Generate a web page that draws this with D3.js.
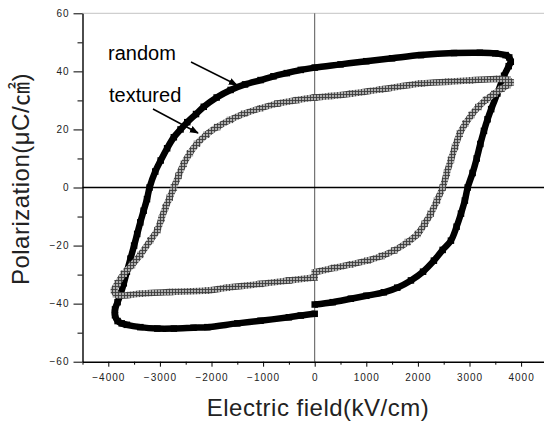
<!DOCTYPE html>
<html>
<head>
<meta charset="utf-8">
<script src="https://cdn.jsdelivr.net/npm/d3@7"></script>
<style>
  body { margin: 0; background: #fff; }
  svg { display: block; }
</style>
</head>
<body>
<div id="chart"></div>
<script>
// hysteresis loops, E in kV/cm, P in uC/cm2, in measuring order
const randomE = [0, 350, 700, 1000, 1340, 1600, 1865, 2100, 2310, 2480, 2640, 2750, 2835, 2910, 2965, 3060, 3140, 3210, 3280, 3350, 3420, 3540, 3670, 3760,
  3800, 3770, 3700, 3500, 3200, 2700, 2060, 1500, 1000, 500, 0, -270, -540, -800, -1050, -1350, -1630, -1900, -2150, -2300, -2470, -2600, -2730, -2860, -2985, -3090,
  -3200, -3250, -3315, -3380, -3440, -3500, -3570, -3640, -3700, -3760, -3820, -3870, -3870, -3820, -3740, -3640, -3380, -3050, -2730, -2350, -2080, -1500, -1050, -500, -270, 0];
const randomP = [-40.3, -39.5, -38.3, -37.3, -36.1, -34.5, -32, -29, -25.2, -21.5, -18.3, -13.5, -9, -4.5, 0, 5, 10, 15, 19.5, 23.5, 27, 32.4, 38.5, 41.8,
  43.3, 44.8, 45.6, 46.2, 46.4, 46.3, 45.6, 44.5, 43.5, 42.4, 41.3, 40.5, 39.4, 38.3, 37, 35.5, 33.6, 31, 27.8, 25.3, 22.5, 20, 17.3, 13.5, 9.3, 5.5,
  0, -4, -8, -12, -16, -20, -24.5, -29, -33, -36.6, -39.5, -42, -44, -46, -46.8, -47.3, -48.1, -48.6, -48.6, -48.3, -48.1, -46.8, -45.9, -44.7, -44.1, -43.5];

const texturedE = [0, 375, 700, 1020, 1300, 1540, 1800, 1995, 2130, 2250, 2370, 2480, 2560, 2640, 2720, 2810, 2920, 3040, 3170, 3320, 3480, 3620, 3740,
  3800, 3740, 3540, 3030, 2580, 2060, 1280, 700, 310, 0, -350, -725, -1050, -1370, -1640, -1890, -2100, -2280, -2420, -2540, -2640, -2730,
  -2810, -2890, -2970, -3050, -3185, -3380, -3540, -3700, -3820, -3890, -3850, -3770, -3380, -2800, -2080, -1700, -1050, -500, 0];
const texturedP = [-29.2, -27.7, -26.5, -25.2, -23.6, -21.7, -18.8, -16, -12.5, -9, -4.5, 0, 5, 9.5, 14, 18.5, 22, 25, 27.7, 30.2, 32.3, 34, 35.3,
  36.2, 37.1, 37.4, 36.9, 36.4, 35.8, 33.8, 32.3, 31.5, 31, 30.1, 28.9, 27.3, 25.4, 23.3, 20.8, 18.2, 15.1, 11.8, 8.1, 4, 0,
  -3.5, -6.8, -10.7, -14.7, -18.2, -23.2, -26.7, -29.7, -33, -35.5, -36.8, -37.2, -36.6, -36, -35.5, -34.5, -33.2, -32, -31];

const xTicks = [-4000, -3000, -2000, -1000, 0, 1000, 2000, 3000, 4000];
const xMinor = [-4500, -3500, -2500, -1500, -500, 500, 1500, 2500, 3500, 4500];
const yTicks = [-60, -40, -20, 0, 20, 40, 60];
const yMinor = [-50, -30, -10, 10, 30, 50];

const width = 544, height = 429;

const svg = d3.select("#chart")
  .append("svg")
    .attr("width", width)
    .attr("height", height)
    .style("font-family", "Arial, 'Liberation Sans', 'Noto Sans CJK KR', sans-serif");

const x = d3.scaleLinear().domain([-4500, 4500]).range([82.5, 546.9]);
const y = d3.scaleLinear().domain([-60, 60]).range([361.7, 13.3]);

const defs = svg.append("defs");
const hatch = defs.append("pattern")
  .attr("id", "hatch")
  .attr("patternUnits", "userSpaceOnUse")
  .attr("width", 3)
  .attr("height", 3);
hatch.append("rect").attr("width", 3).attr("height", 3).attr("fill", "#adadad");
hatch.append("path").attr("d", "M0,1.5H3M1.5,0V3").attr("stroke", "#3c3c3c").attr("stroke-width", 0.9);

defs.append("marker")
  .attr("id", "arrow")
  .attr("viewBox", "0 0 10 10")
  .attr("refX", 9)
  .attr("refY", 5)
  .attr("markerWidth", 6)
  .attr("markerHeight", 6)
  .attr("markerUnits", "strokeWidth")
  .attr("orient", "auto")
  .append("path")
    .attr("d", "M0,1L10,5L0,9Z")
    .attr("fill", "#000");

// frame top (dotted) and zero lines
svg.append("line")
  .attr("x1", x(-4500)).attr("x2", width)
  .attr("y1", y(60)).attr("y2", y(60))
  .attr("stroke", "#888").attr("stroke-dasharray", "1,1");

svg.append("line")
  .attr("x1", x(0)).attr("x2", x(0))
  .attr("y1", y(60)).attr("y2", y(-60))
  .attr("stroke", "#555").attr("stroke-width", 1);

svg.append("line")
  .attr("x1", x(-4500)).attr("x2", width)
  .attr("y1", y(0)).attr("y2", y(0))
  .attr("stroke", "#000").attr("stroke-width", 1.4);

// axes
const styleAxis = g => {
  g.select(".domain").attr("stroke", "#000").attr("stroke-width", 1.4);
  g.selectAll("text")
    .attr("fill", "#222")
    .style("font-size", "10px")
    .style("letter-spacing", "1px");
};

svg.append("g")
  .attr("transform", `translate(0,${y(-60)})`)
  .call(d3.axisBottom(x).tickValues(xMinor).tickSize(3).tickFormat(""))
  .call(g => g.select(".domain").remove());

svg.append("g")
  .attr("transform", `translate(0,${y(-60)})`)
  .call(d3.axisBottom(x).tickValues(xTicks).tickSize(5).tickSizeOuter(0).tickPadding(7).tickFormat(d3.format("d")))
  .call(styleAxis);

svg.append("g")
  .attr("transform", `translate(${x(-4500)},0)`)
  .call(d3.axisLeft(y).tickValues(yMinor).tickSize(5).tickFormat(""))
  .call(g => g.select(".domain").remove());

svg.append("g")
  .attr("transform", `translate(${x(-4500)},0)`)
  .call(d3.axisLeft(y).tickValues(yTicks).tickSize(9).tickSizeOuter(0).tickPadding(4).tickFormat(d3.format("d")))
  .call(styleAxis);

// loops
const line = d3.line()
  .x(d => x(d[0]))
  .y(d => y(d[1]))
  .curve(d3.curveCatmullRom);

const randomPts = randomE.map((e, i) => [e, randomP[i]]);
const texturedPts = texturedE.map((e, i) => [e, texturedP[i]]);

const randomLoop = svg.append("g").attr("class", "random");
randomLoop.append("path")
  .attr("d", line(randomPts))
  .attr("fill", "none")
  .attr("stroke", "#000")
  .attr("stroke-width", 6.5);
randomLoop.selectAll("rect")
  .data(randomPts)
  .join("rect")
  .attr("x", d => x(d[0]) - 3.25)
  .attr("y", d => y(d[1]) - 3.25)
  .attr("width", 6.5)
  .attr("height", 6.5)
  .attr("fill", "#000");

const texturedLoop = svg.append("g").attr("class", "textured");
texturedLoop.append("path")
  .attr("d", line(texturedPts))
  .attr("fill", "none")
  .attr("stroke", "url(#hatch)")
  .attr("stroke-width", 6.5);
texturedLoop.selectAll("rect")
  .data(texturedPts)
  .join("rect")
  .attr("x", d => x(d[0]) - 3.25)
  .attr("y", d => y(d[1]) - 3.25)
  .attr("width", 6.5)
  .attr("height", 6.5)
  .attr("fill", "url(#hatch)");

// annotations
svg.append("text")
  .attr("x", 108).attr("y", 60)
  .style("font-size", "20px")
  .text("random");
svg.append("line")
  .attr("x1", 191).attr("y1", 62)
  .attr("x2", 237).attr("y2", 85)
  .attr("stroke", "#000").attr("stroke-width", 1.5)
  .attr("marker-end", "url(#arrow)");

svg.append("text")
  .attr("x", 109).attr("y", 102)
  .style("font-size", "20px")
  .text("textured");
svg.append("line")
  .attr("x1", 153).attr("y1", 109)
  .attr("x2", 198).attr("y2", 133)
  .attr("stroke", "#000").attr("stroke-width", 1.5)
  .attr("marker-end", "url(#arrow)");

// axis titles
svg.append("text")
  .attr("x", 318).attr("y", 416)
  .attr("text-anchor", "middle")
  .attr("fill", "#222")
  .style("font-size", "24px")
  .style("letter-spacing", "0.5px")
  .text("Electric field(kV/cm)");

svg.append("text")
  .attr("transform", "translate(29,179) rotate(-90)")
  .attr("text-anchor", "middle")
  .attr("fill", "#222")
  .style("font-size", "24px")
  .style("letter-spacing", "0.5px")
  .text("Polarization(μC/㎠)");
</script>
</body>
</html>
